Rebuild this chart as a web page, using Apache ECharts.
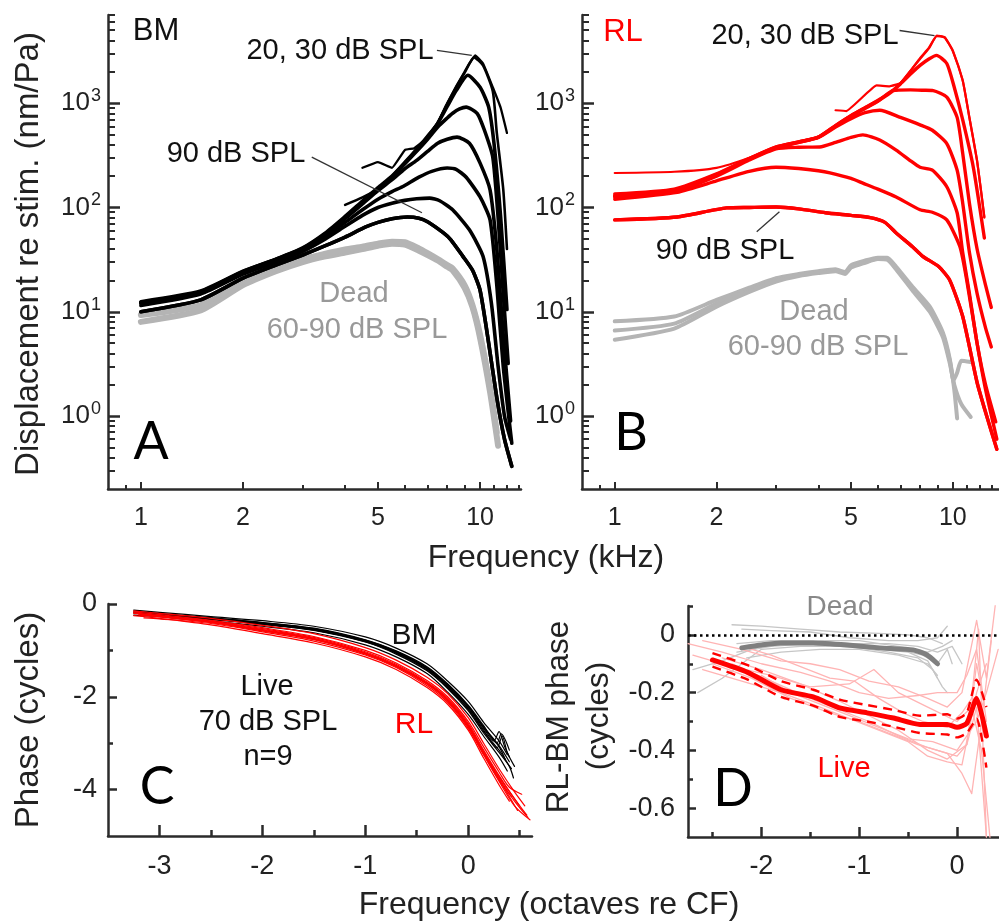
<!DOCTYPE html>
<html><head><meta charset="utf-8">
<script src="https://cdn.jsdelivr.net/npm/echarts@6/dist/echarts.min.js"></script>
<style>html,body{margin:0;padding:0;background:#fff}#c{width:999px;height:923px}</style>
</head><body><div id="c"></div>
<script>
// ---------- Panel A : BM displacement (frequency kHz, nm/Pa) ----------
const bm20 = [[4.5,240],[5.0,272],[5.5,240],[6.0,355],[6.4,370],[7.0,470],[7.5,650],[8.0,1000],[8.5,1450],[9.0,2000],[9.3,2400],[9.67,2870],[10.2,2400],[10.9,1420],[11.5,900],[12.0,518]];
const bm30 = [[4.0,106],[4.5,125],[5.0,150],[5.5,200],[6.0,270],[6.5,360],[7.0,480],[7.5,650],[8.0,990],[8.5,1420],[9.0,1950],[9.6,2750],[10.2,2300],[10.9,1300],[11.2,518],[11.7,150],[12.0,40]];
const bm40 = [[1.0,12.5],[1.5,15.8],[2.0,24.5],[2.5,32],[3.0,41],[3.5,57],[4.0,82],[4.5,115],[5.0,155],[5.5,200],[6.0,270],[6.5,360],[7.0,480],[7.5,640],[8.0,930],[8.5,1320],[9.2,1850],[10.0,1420],[10.6,916],[11.0,400],[11.5,80],[12.0,10.5]];
const bm50 = [[1.0,12.3],[1.5,15.6],[2.0,24.3],[2.5,31.8],[3.0,40.5],[3.5,56],[4.0,80],[4.5,112],[5.0,150],[5.5,195],[6.0,262],[6.5,345],[7.0,450],[7.5,590],[8.0,720],[8.3,800],[8.7,880],[9.1,916],[9.8,800],[10.3,550],[10.9,303],[11.3,80],[11.7,15],[12.1,3.2]];
const bm60 = [[1.0,12.2],[1.5,15.4],[2.0,24],[2.5,31.5],[3.0,40],[3.5,55],[4.0,78],[4.5,108],[5.0,145],[5.5,185],[6.0,235],[6.5,283],[7.0,345],[7.5,413],[8.0,450],[8.55,472],[9.3,413],[10.0,266],[10.7,147],[11.2,40],[11.7,6],[12.3,0.9]];
const bm70 = [[1.0,12],[1.5,15.2],[2.0,23.5],[2.5,31],[3.0,39],[3.5,53],[4.0,72],[4.5,95],[5.0,120],[5.5,142],[5.9,158],[6.6,195],[7.2,222],[8.0,239],[8.5,232],[9.1,195],[10.0,126],[10.7,76],[11.2,18],[11.7,3],[12.4,0.55]];
const bm80 = [[1.0,11.5],[1.5,14.8],[2.0,23],[2.5,30],[3.0,38],[3.5,50],[4.0,66],[4.5,84],[5.0,100],[5.5,110],[6.0,117],[6.5,121],[7.1,123],[7.6,116],[8.3,95],[9.3,61],[10.2,34],[10.8,12],[11.3,3],[11.8,1],[12.3,0.6]];
const bm90 = [[1.0,10],[1.5,13],[2.0,21],[2.5,28],[3.0,35],[3.5,43],[4.0,52],[4.6,65],[5.0,72],[5.5,78],[6.1,81],[6.6,79],[7.0,73],[7.8,57],[8.2,49],[8.9,34],[9.5,25],[10.0,16],[10.6,5],[11.2,1.5],[11.8,0.6],[12.4,0.33]];
const bmDead1 = [[1.0,8.0],[1.5,10.3],[2.0,18],[2.5,24.5],[3.0,30],[3.5,34],[4.0,37],[4.5,40],[5.0,43],[5.5,45],[6.0,44],[6.6,38.5],[7.0,35],[7.5,31],[8.0,27],[8.3,25],[9.0,17],[9.5,11],[10.0,5.6],[10.7,1.7],[11.3,0.52]];
const bmDead2 = [[1.0,9.3],[1.5,11.6],[2.0,19.5],[2.5,26],[3.0,32],[3.5,36],[4.0,39.5],[4.5,42],[5.0,45],[5.5,47],[6.0,46.5],[6.6,40.5],[7.0,36.5],[7.5,32],[8.0,28],[8.3,26],[9.0,18],[9.5,11.5],[10.0,6],[10.7,1.9],[11.2,0.7]];

// ---------- Panel B : RL displacement ----------
const rl20 = [[4.5,855],[4.84,840],[5.95,1480],[6.5,1450],[7.0,1560],[7.5,2050],[8.0,2700],[8.5,3400],[8.97,4450],[9.46,4300],[10.0,3200],[10.7,1660],[11.2,730],[11.8,282],[12.4,81]];
const rl30 = [[1.0,214],[1.5,220],[2.0,240],[2.5,300],[3.0,385],[3.5,430],[4.0,480],[4.5,620],[5.0,770],[5.5,920],[6.0,1080],[6.5,1270],[7.0,1560],[7.5,2050],[8.0,2650],[8.5,3350],[8.97,4400],[9.46,4250],[10.0,3150],[10.7,1640],[11.2,720],[11.8,278],[12.4,80]];
const rl40 = [[1.0,135],[1.5,150],[2.0,210],[2.5,295],[3.0,378],[3.5,425],[4.0,472],[4.5,610],[5.0,760],[5.5,900],[6.0,1050],[6.5,1240],[7.0,1530],[7.5,1900],[8.0,2300],[8.5,2650],[8.95,2870],[9.6,2400],[10.1,1420],[10.7,690],[11.5,243],[12.4,51]];
const rl50 = [[1.0,130],[1.5,147],[2.0,207],[2.5,292],[3.0,375],[3.5,422],[4.0,470],[4.5,600],[5.0,750],[5.5,890],[6.0,1040],[6.64,1320],[7.5,1340],[8.2,1330],[8.75,1320],[9.6,1140],[10.3,730],[10.7,330],[11.2,110],[11.8,40],[12.5,18],[13.0,11]];
const rl60 = [[1.0,128],[1.5,145],[2.0,205],[2.5,290],[3.0,372],[3.5,420],[4.0,468],[4.5,590],[5.0,710],[5.5,810],[6.08,855],[7.0,730],[8.0,620],[8.7,550],[9.6,410],[10.3,228],[10.7,110],[11.2,37],[11.8,15],[12.5,7],[13.0,4.6]];
const rl70 = [[1.0,126],[1.5,142],[2.0,200],[2.5,285],[3.0,365],[3.5,378],[4.04,380],[4.5,420],[5.0,470],[5.42,497],[6.08,444],[6.8,355],[7.5,280],[8.0,243],[8.7,228],[9.6,158],[10.3,89],[10.7,37],[11.2,15],[11.8,5],[12.5,2],[13.4,0.88]];
const rl80 = [[1.0,120],[1.53,140],[2.0,180],[2.5,222],[3.0,243],[3.5,236],[4.0,225],[4.33,215],[5.0,190],[5.42,171],[6.0,150],[6.8,126],[8.0,95],[8.7,90],[9.6,76],[10.5,42],[11.0,20],[11.8,5],[12.5,1.8],[13.5,0.6]];
const rl90 = [[1.0,76],[1.53,81],[2.14,99],[2.5,100],[3.0,101],[3.5,97],[4.2,89],[5.0,84],[5.7,80],[6.3,72],[6.8,57],[7.6,42],[8.15,34],[9.1,27],[9.8,20],[10.7,9],[11.8,2.1],[12.6,1.0],[13.5,0.48]];
const rlDead1 = [[1.0,8.1],[1.5,9.0],[2.0,13],[2.5,17],[3.0,21],[3.5,23],[4.0,24.5],[4.5,25.5],[4.8,24],[5.0,28],[5.5,31],[6.0,33],[6.4,33],[6.8,27],[7.6,17.4],[8.55,11.2],[9.35,6.3],[9.8,3.5],[10.1,1.8],[10.3,0.95]];
const rlDead2 = [[1.0,6.6],[1.5,7.7],[2.0,12],[2.5,16],[3.0,20],[3.5,22.5],[4.0,24],[4.5,25],[4.8,23.5],[5.0,27],[5.5,30],[6.0,32.5],[6.4,32],[6.8,26],[7.6,16.5],[8.55,10.5],[9.35,6.0],[9.8,3.4],[10.05,2.2],[10.3,2.6],[10.6,3.4],[11.3,3.3]];
const rlDead3 = [[1.0,5.4],[1.5,6.9],[2.0,11.2],[2.5,15.5],[3.0,19.5],[3.5,22],[4.0,23.5],[4.5,24.5],[4.8,23],[5.0,26.5],[5.5,29.5],[6.0,32],[6.4,31.5],[6.8,25.5],[7.6,16],[8.55,10],[9.35,5.7],[9.8,3.2],[10.1,2.0],[10.6,1.3],[11.3,0.98]];

// ---------- Panel C : phase (octaves re CF, cycles), 9 animals ----------
const phBM = [
 [[-3.25,-0.13],[-3,-0.18],[-2.5,-0.27],[-2,-0.36],[-1.5,-0.48],[-1,-0.71],[-0.7,-0.95],[-0.4,-1.29],[-0.2,-1.66],[0,-2.1],[0.15,-2.55],[0.3,-2.95],[0.38,-3.25]],
 [[-3.2,-0.17],[-3,-0.21],[-2.5,-0.3],[-2,-0.4],[-1.5,-0.53],[-1,-0.78],[-0.7,-1.02],[-0.4,-1.37],[-0.2,-1.74],[0,-2.2],[0.15,-2.65],[0.3,-3.05],[0.4,-3.4]],
 [[-3.25,-0.19],[-3,-0.23],[-2.5,-0.32],[-2,-0.42],[-1.5,-0.55],[-1,-0.8],[-0.7,-1.05],[-0.4,-1.4],[-0.2,-1.78],[0,-2.25],[0.15,-2.72],[0.28,-3.1],[0.33,-2.85],[0.38,-3.2],[0.45,-3.5]],
 [[-3.1,-0.2],[-3,-0.24],[-2.5,-0.33],[-2,-0.44],[-1.5,-0.57],[-1,-0.82],[-0.7,-1.08],[-0.4,-1.44],[-0.2,-1.82],[0,-2.3],[0.15,-2.78],[0.3,-3.2],[0.42,-3.55]],
 [[-3.25,-0.24],[-3,-0.27],[-2.5,-0.37],[-2,-0.48],[-1.5,-0.62],[-1,-0.88],[-0.7,-1.14],[-0.4,-1.5],[-0.2,-1.9],[0,-2.38],[0.15,-2.85],[0.3,-3.3],[0.38,-3.6]],
 [[-3.2,-0.2],[-3,-0.22],[-2.5,-0.31],[-2,-0.41],[-1.5,-0.54],[-1,-0.79],[-0.7,-1.04],[-0.4,-1.39],[-0.2,-1.76],[0,-2.22],[0.15,-2.68],[0.25,-2.95],[0.3,-2.75],[0.35,-3.05],[0.4,-3.3]],
 [[-3.15,-0.18],[-3,-0.21],[-2.5,-0.3],[-2,-0.4],[-1.5,-0.52],[-1,-0.77],[-0.7,-1.01],[-0.4,-1.35],[-0.2,-1.72],[0,-2.18],[0.15,-2.62],[0.28,-3.0],[0.32,-2.8],[0.4,-3.15]],
 [[-3.25,-0.17],[-3,-0.22],[-2.5,-0.31],[-2,-0.43],[-1.5,-0.56],[-1,-0.81],[-0.7,-1.06],[-0.4,-1.42],[-0.2,-1.8],[0,-2.27],[0.15,-2.75],[0.3,-3.15],[0.4,-3.5],[0.44,-3.75]],
 [[-3.1,-0.19],[-3,-0.23],[-2.5,-0.33],[-2,-0.43],[-1.5,-0.56],[-1,-0.8],[-0.7,-1.04],[-0.4,-1.38],[-0.2,-1.75],[0,-2.2],[0.15,-2.66],[0.3,-3.08],[0.36,-3.35]]
];
const phRL = [
 [[-3.25,-0.15],[-3,-0.2],[-2.5,-0.31],[-2,-0.46],[-1.5,-0.64],[-1,-0.94],[-0.7,-1.21],[-0.4,-1.58],[-0.2,-1.93],[0,-2.45],[0.15,-3.0],[0.3,-3.55],[0.45,-4.05],[0.55,-4.35]],
 [[-3.25,-0.19],[-3,-0.25],[-2.5,-0.37],[-2,-0.53],[-1.5,-0.72],[-1,-1.03],[-0.7,-1.3],[-0.4,-1.68],[-0.2,-2.03],[0,-2.57],[0.15,-3.15],[0.3,-3.7],[0.45,-4.2],[0.57,-4.55]],
 [[-3.2,-0.22],[-3,-0.27],[-2.5,-0.39],[-2,-0.56],[-1.5,-0.75],[-1,-1.06],[-0.7,-1.33],[-0.4,-1.71],[-0.2,-2.07],[0,-2.62],[0.15,-3.2],[0.3,-3.75],[0.45,-4.25],[0.58,-4.6]],
 [[-3.15,-0.3],[-3,-0.32],[-2.5,-0.42],[-2,-0.6],[-1.5,-0.8],[-1,-1.1],[-0.7,-1.37],[-0.4,-1.76],[-0.2,-2.12],[0,-2.68],[0.15,-3.25],[0.3,-3.8],[0.42,-4.15]],
 [[-3.25,-0.2],[-3,-0.26],[-2.5,-0.38],[-2,-0.55],[-1.5,-0.74],[-1,-1.05],[-0.7,-1.32],[-0.4,-1.7],[-0.2,-2.05],[0,-2.6],[0.15,-3.18],[0.3,-3.72],[0.5,-4.35]],
 [[-3.2,-0.24],[-3,-0.28],[-2.5,-0.4],[-2,-0.58],[-1.5,-0.77],[-1,-1.08],[-0.7,-1.35],[-0.4,-1.73],[-0.2,-2.09],[0,-2.65],[0.15,-3.22],[0.3,-3.78],[0.48,-4.45]],
 [[-3.25,-0.17],[-3,-0.23],[-2.5,-0.35],[-2,-0.51],[-1.5,-0.7],[-1,-1.0],[-0.7,-1.27],[-0.4,-1.65],[-0.2,-2.0],[0,-2.53],[0.15,-3.08],[0.3,-3.62],[0.4,-3.95],[0.52,-4.1]],
 [[-3.1,-0.25],[-3,-0.27],[-2.5,-0.39],[-2,-0.57],[-1.5,-0.76],[-1,-1.07],[-0.7,-1.34],[-0.4,-1.72],[-0.2,-2.08],[0,-2.64],[0.15,-3.24],[0.3,-3.82],[0.45,-4.35],[0.6,-4.65]],
 [[-3.25,-0.25],[-3,-0.31],[-2.5,-0.45],[-2,-0.64],[-1.5,-0.84],[-1,-1.14],[-0.7,-1.41],[-0.4,-1.8],[-0.2,-2.16],[0,-2.72],[0.15,-3.32],[0.3,-3.9],[0.4,-4.25]]
];

// ---------- Panel D : RL-BM phase (cycles) ----------
const liveMean = [[-2.5,-0.087],[-2.14,-0.13],[-1.8,-0.19],[-1.47,-0.215],[-1.19,-0.254],[-0.92,-0.27],[-0.65,-0.288],[-0.38,-0.31],[-0.1,-0.31],[0,-0.32],[0.1,-0.306],[0.2,-0.22],[0.3,-0.35]];
const liveUpper = [[-2.5,-0.063],[-2.14,-0.105],[-1.8,-0.16],[-1.47,-0.19],[-1.19,-0.225],[-0.92,-0.243],[-0.65,-0.26],[-0.38,-0.28],[-0.1,-0.275],[0,-0.29],[0.1,-0.27],[0.2,-0.155],[0.3,-0.25]];
const liveLower = [[-2.5,-0.11],[-2.14,-0.155],[-1.8,-0.215],[-1.47,-0.245],[-1.19,-0.285],[-0.92,-0.3],[-0.65,-0.318],[-0.38,-0.34],[-0.1,-0.345],[0,-0.355],[0.1,-0.34],[0.2,-0.29],[0.3,-0.46]];
const liveEach = [
 [[-2.75,-0.03],[-2.4,-0.06],[-2,-0.1],[-1.6,-0.13],[-1.3,-0.16],[-1,-0.2],[-0.7,-0.22],[-0.4,-0.21],[-0.2,-0.2],[0,-0.2],[0.1,-0.14],[0.2,-0.05],[0.3,-0.3]],
 [[-2.6,-0.02],[-2.2,-0.05],[-1.8,-0.09],[-1.5,-0.1],[-1.2,-0.12],[-0.9,-0.16],[-0.6,-0.18],[-0.3,-0.22],[-0.1,-0.25],[0.05,-0.2],[0.2,0.05],[0.3,-0.15],[0.4,0.13]],
 [[-2.7,-0.07],[-2.3,-0.11],[-1.9,-0.14],[-1.5,-0.18],[-1.1,-0.17],[-0.85,-0.12],[-0.6,-0.2],[-0.3,-0.25],[0,-0.3],[0.15,-0.25],[0.25,-0.4],[0.35,-0.75]],
 [[-2.5,-0.1],[-2.1,-0.15],[-1.7,-0.22],[-1.3,-0.27],[-1,-0.3],[-0.7,-0.34],[-0.4,-0.38],[-0.2,-0.4],[0,-0.42],[0.1,-0.38],[0.2,-0.25],[0.3,-0.7]],
 [[-2.6,-0.12],[-2.2,-0.16],[-1.8,-0.2],[-1.4,-0.25],[-1.1,-0.29],[-0.8,-0.33],[-0.5,-0.37],[-0.3,-0.42],[-0.1,-0.44],[0.05,-0.45],[0.2,-0.2],[0.3,-0.1]],
 [[-2.4,-0.08],[-2,-0.12],[-1.6,-0.17],[-1.2,-0.23],[-0.9,-0.28],[-0.6,-0.33],[-0.3,-0.4],[-0.1,-0.43],[0.1,-0.38],[0.2,-0.1],[0.28,-0.25]],
 [[-2.3,-0.1],[-1.9,-0.16],[-1.5,-0.22],[-1.2,-0.26],[-0.9,-0.3],[-0.6,-0.35],[-0.3,-0.39],[-0.1,-0.41],[0.05,-0.48],[0.15,-0.55],[0.25,-0.3],[0.35,-0.02]],
 [[-2.2,-0.04],[-1.9,-0.07],[-1.6,-0.11],[-1.3,-0.15],[-1.05,-0.16],[-0.8,-0.22],[-0.55,-0.27],[-0.35,-0.3],[-0.1,-0.32],[0.05,-0.27],[0.15,-0.22],[0.22,0.02],[0.3,-0.7]],
 [[-2.0,-0.14],[-1.7,-0.2],[-1.4,-0.24],[-1.1,-0.28],[-0.8,-0.32],[-0.5,-0.36],[-0.25,-0.37],[0,-0.4],[0.1,-0.35],[0.2,-0.3],[0.3,-0.2],[0.42,-0.05]]
];
const deadMean = [[-2.2,-0.045],[-2,-0.035],[-1.8,-0.028],[-1.47,-0.028],[-1.12,-0.035],[-0.79,-0.045],[-0.45,-0.052],[-0.31,-0.069],[-0.2,-0.1]];
const deadEach = [
 [[-2.65,-0.2],[-2.4,-0.15],[-2.2,-0.1],[-2,-0.05],[-1.6,-0.04],[-1.2,-0.04],[-0.8,-0.05],[-0.5,-0.06],[-0.3,-0.09],[-0.2,-0.15]],
 [[-2.3,0.035],[-2,0.03],[-1.6,0.02],[-1.2,0.01],[-0.8,0.005],[-0.5,0],[-0.3,-0.01],[-0.15,-0.03]],
 [[-2.2,0.02],[-1.9,0.015],[-1.5,0.01],[-1.1,-0.01],[-0.7,-0.02],[-0.4,-0.02],[-0.2,-0.01],[-0.1,0.03]],
 [[-2.7,-0.12],[-2.4,-0.09],[-2.1,-0.05],[-1.8,-0.03],[-1.4,-0.03],[-1,-0.04],[-0.6,-0.05],[-0.35,-0.07],[-0.2,-0.1],[-0.1,-0.05],[-0.05,-0.1]],
 [[-2.25,-0.06],[-1.9,-0.04],[-1.5,-0.03],[-1.1,-0.04],[-0.7,-0.06],[-0.4,-0.08],[-0.25,-0.12],[-0.15,-0.18],[-0.1,-0.2]],
 [[-2.25,-0.03],[-1.9,-0.02],[-1.5,-0.02],[-1.1,-0.03],[-0.7,-0.03],[-0.4,-0.04],[-0.2,-0.06],[-0.05,-0.04],[0.05,-0.1]],
 [[-2.2,-0.05],[-1.8,-0.03],[-1.4,-0.02],[-1,-0.02],[-0.6,-0.04],[-0.3,-0.06],[-0.15,-0.04],[-0.05,-0.02]],
 [[-2.15,-0.08],[-1.8,-0.06],[-1.4,-0.05],[-1,-0.05],[-0.6,-0.07],[-0.3,-0.1],[-0.2,-0.14]]
];

// ---------- ticks ----------
const kHzLabels = [1,2,5,10];
const kHzMinor = [0.9,3,4,6,7,8,9,11,12,13];
const dispLabels = [1,10,100,1000];
const dispMinor = [0.3,0.4,0.5,0.6,0.7,0.8,0.9,2,3,4,5,6,7,8,9,20,30,40,50,60,70,80,90,200,300,400,500,600,700,800,900,2000,3000,4000,5000,6000,7000];
const octLabelsC = [-3,-2,-1,0];
const octMinorC = [-2.5,-1.5,-0.5,0.5];
const phaseLabelsC = [0,-2,-4];
const phaseMinorC = [-1,-3];
const octLabelsD = [-2,-1,0];
const octMinorD = [-2.5,-1.5,-0.5];
const diffLabelsD = [0,-0.2,-0.4,-0.6];
const diffMinorD = [0.1,-0.1,-0.3,-0.5];

// leader lines for annotations (data coordinates)
const leadA2030 = [[7.46,3200],[9.45,2870]];
const leadA90 = [[3.19,304],[6.74,89]];
const leadB2030 = [[6.96,4970],[8.83,4450]];
const leadB90 = [[2.63,58.5],[3.07,90.8]];

const FONT = '"Liberation Sans", Arial, Helvetica, sans-serif';
const AX = '#2b2b2b';
const chart = echarts.init(document.getElementById('c'), null, {renderer:'canvas'});

function axisBase(extra){
  return Object.assign({
    axisLine:{show:true,onZero:false,lineStyle:{color:AX,width:2.5}},
    splitLine:{show:false},
    silent:true
  }, extra);
}
function minorAxis(extra){
  return Object.assign({
    axisLine:{show:false,onZero:false},
    axisLabel:{show:false},
    splitLine:{show:false},
    silent:true
  }, extra);
}
const supFmt = v => '{b|10}{s|' + Math.round(Math.log10(v)) + '}';
const supRich = {b:{fontSize:26,fontFamily:FONT,color:'#222'}, s:{fontSize:18,fontFamily:FONT,color:'#222',padding:[0,0,14,1]}};

const xAxes = [
  axisBase({type:'log',logBase:10,gridIndex:0,position:'bottom',min:0.8,max:13.2,
    axisTick:{show:true,inside:true,length:7,customValues:kHzLabels,lineStyle:{color:AX,width:2}},
    axisLabel:{customValues:kHzLabels,fontSize:25,fontFamily:FONT,color:'#222',margin:17,formatter:v=>String(v)}}),
  minorAxis({type:'log',logBase:10,gridIndex:0,position:'bottom',min:0.8,max:13.2,
    axisTick:{show:true,inside:true,length:4,customValues:kHzMinor,lineStyle:{color:AX,width:2}}}),
  axisBase({type:'log',logBase:10,gridIndex:1,position:'bottom',min:0.8,max:13.7,
    axisTick:{show:true,inside:true,length:7,customValues:kHzLabels,lineStyle:{color:AX,width:2}},
    axisLabel:{customValues:kHzLabels,fontSize:25,fontFamily:FONT,color:'#222',margin:17,formatter:v=>String(v)}}),
  minorAxis({type:'log',logBase:10,gridIndex:1,position:'bottom',min:0.8,max:13.7,
    axisTick:{show:true,inside:true,length:4,customValues:kHzMinor,lineStyle:{color:AX,width:2}}}),
  axisBase({type:'value',gridIndex:2,position:'bottom',min:-3.5,max:0.62,
    axisTick:{show:true,inside:true,length:11,customValues:octLabelsC,lineStyle:{color:AX,width:2.5}},
    axisLabel:{customValues:octLabelsC,fontSize:27,fontFamily:FONT,color:'#222',margin:17,formatter:v=>String(v)}}),
  minorAxis({type:'value',gridIndex:2,position:'bottom',min:-3.5,max:0.62,
    axisTick:{show:true,inside:true,length:6,customValues:octMinorC,lineStyle:{color:AX,width:2.5}}}),
  axisBase({type:'value',gridIndex:3,position:'bottom',min:-2.75,max:0.4286,
    axisTick:{show:true,inside:true,length:10,customValues:octLabelsD,lineStyle:{color:AX,width:2.5}},
    axisLabel:{customValues:octLabelsD,fontSize:27,fontFamily:FONT,color:'#222',margin:16,formatter:v=>String(v)}}),
  minorAxis({type:'value',gridIndex:3,position:'bottom',min:-2.75,max:0.4286,
    axisTick:{show:true,inside:true,length:5,customValues:octMinorD,lineStyle:{color:AX,width:2.5}}})
];
const yAxes = [
  axisBase({type:'log',logBase:10,gridIndex:0,position:'left',min:0.2,max:7000,
    axisTick:{show:true,inside:true,length:12,customValues:dispLabels,lineStyle:{color:AX,width:2.5}},
    axisLabel:{customValues:dispLabels,margin:7,formatter:supFmt,rich:supRich}}),
  minorAxis({type:'log',logBase:10,gridIndex:0,position:'left',min:0.2,max:7000,
    axisTick:{show:true,inside:true,length:7,customValues:dispMinor,lineStyle:{color:AX,width:2}}}),
  axisBase({type:'log',logBase:10,gridIndex:1,position:'left',min:0.2,max:7000,
    axisTick:{show:true,inside:true,length:12,customValues:dispLabels,lineStyle:{color:AX,width:2.5}},
    axisLabel:{customValues:dispLabels,margin:7,formatter:supFmt,rich:supRich}}),
  minorAxis({type:'log',logBase:10,gridIndex:1,position:'left',min:0.2,max:7000,
    axisTick:{show:true,inside:true,length:7,customValues:dispMinor,lineStyle:{color:AX,width:2}}}),
  axisBase({type:'value',gridIndex:2,position:'left',min:-5,max:0,
    axisTick:{show:true,inside:true,length:9,customValues:phaseLabelsC,lineStyle:{color:AX,width:2.5}},
    axisLabel:{customValues:phaseLabelsC,fontSize:27,fontFamily:FONT,color:'#222',margin:11,formatter:v=>String(v)}}),
  minorAxis({type:'value',gridIndex:2,position:'left',min:-5,max:0,
    axisTick:{show:true,inside:true,length:5,customValues:phaseMinorC,lineStyle:{color:AX,width:2.5}}}),
  axisBase({type:'value',gridIndex:3,position:'left',min:-0.7,max:0.1,
    axisTick:{show:true,inside:true,length:8,customValues:diffLabelsD,lineStyle:{color:AX,width:2.5}},
    axisLabel:{customValues:diffLabelsD,fontSize:27,fontFamily:FONT,color:'#222',margin:13,formatter:v=>(v===0?'0':v.toFixed(1))}}),
  minorAxis({type:'value',gridIndex:3,position:'left',min:-0.7,max:0.1,
    axisTick:{show:true,inside:true,length:5,customValues:diffMinorD,lineStyle:{color:AX,width:2.5}}})
];

const series = [];
function addLine(data, ax, color, width, opt){
  const s = Object.assign({type:'line',xAxisIndex:ax,yAxisIndex:ax,data:data,symbol:'none',showSymbol:false,
    smooth:0.2,silent:true,emphasis:{disabled:true},
    lineStyle:{color:color,width:width,cap:'round',join:'round'}}, opt||{});
  series.push(s);
  return s;
}
function leader(s, pts){
  s.markLine = {silent:true,symbol:'none',label:{show:false},animation:false,
    lineStyle:{color:'#333',width:1.3,type:'solid'},
    data:[[{coord:pts[0]},{coord:pts[1]}]]};
}
// Panel A
addLine(bmDead1,0,'#b4b4b4',6);
addLine(bmDead2,0,'#b4b4b4',6);
[bm90,bm80,bm70,bm60,bm50,bm40].forEach(d=>addLine(d,0,'#000',3.6));
addLine(bm30,0,'#000',2.6);
const sA = addLine(bm20,0,'#000',2.3,{smooth:0.1});
leader(sA, leadA2030);
const sA2 = addLine(bm90,0,'#000',3.6);
leader(sA2, leadA90);
// Panel B
[rlDead1,rlDead2,rlDead3].forEach(d=>addLine(d,2,'#b4b4b4',4));
[rl90,rl80,rl70,rl60,rl50,rl40].forEach(d=>addLine(d,2,'#ff0000',3.4));
addLine(rl30,2,'#ff0000',2.2);
const sB = addLine(rl20,2,'#ff0000',2.2,{smooth:0.1});
leader(sB, leadB2030);
const sB2 = addLine(rl90,2,'#ff0000',3.4);
leader(sB2, leadB90);
// Panel C
phBM.forEach(d=>addLine(d,4,'#000',1.2,{smooth:0.3}));
phRL.forEach(d=>addLine(d,4,'#ff0000',1.2,{smooth:0.3}));
// Panel D
deadEach.forEach(d=>addLine(d,6,'#c6c6c6',1.3,{smooth:false}));
liveEach.forEach(d=>addLine(d,6,'#ffb4b4',1.3,{smooth:false}));
addLine(liveUpper,6,'#ff0000',2.4,{smooth:0.2,lineStyle:{color:'#ff0000',width:2.4,type:[9,6]}});
addLine(liveLower,6,'#ff0000',2.4,{smooth:0.2,lineStyle:{color:'#ff0000',width:2.4,type:[9,6]}});
addLine(liveMean,6,'#ff0000',5,{smooth:0.2});
const sD = addLine(deadMean,6,'#7f7f7f',5,{smooth:0.2});
sD.markLine = {silent:true,symbol:'none',label:{show:false},animation:false,
  lineStyle:{color:'#000',width:2.6,type:[2.5,3.5]},data:[{yAxis:0}]};

function T(x,y,s,size,color,opt){
  const o = opt||{};
  return {type:'text',x:x,y:y,rotation:o.rot||0,silent:true,z:100,
    style:{text:s,font:(o.weight||'normal')+' '+size+'px '+(o.family||FONT),fill:color,
      align:'center',verticalAlign:'middle',textAlign:'center',textVerticalAlign:'middle'}};
}
const LET = 'Lato, "Open Sans", sans-serif';
const graphics = [
  T(156,31,'BM',31,'#111'),
  T(340,51,'20, 30 dB SPL',29,'#111'),
  T(236,154,'90 dB SPL',29,'#111'),
  T(354,294,'Dead',29,'#999'),
  T(357,330,'60-90 dB SPL',29,'#999'),
  T(151,442,'A',52,'#000',{family:LET}),
  T(623,32,'RL',31,'#ff0000'),
  T(805,36,'20, 30 dB SPL',29,'#111'),
  T(725,251,'90 dB SPL',29,'#111'),
  T(814,312,'Dead',29,'#999'),
  T(818,347,'60-90 dB SPL',29,'#999'),
  T(631,433,'B',52,'#000',{family:LET}),
  T(546,558,'Frequency (kHz)',32,'#222'),
  T(29,254,'Displacement re stim. (nm/Pa)',33,'#222',{rot:Math.PI/2}),
  T(414,636,'BM',30,'#111'),
  T(414,725,'RL',30,'#ff0000'),
  T(267,687,'Live',29,'#111'),
  T(268,722,'70 dB SPL',29,'#111'),
  T(268,757,'n=9',29,'#111'),
  T(157,787,'C',52,'#000',{family:LET}),
  T(29,720,'Phase (cycles)',33,'#222',{rot:Math.PI/2}),
  T(840,607,'Dead',28,'#888'),
  T(844,769,'Live',29,'#ff0000'),
  T(733,789,'D',52,'#000',{family:LET}),
  T(559,717,'RL-BM phase',31.5,'#222',{rot:Math.PI/2}),
  T(599,716,'(cycles)',31.5,'#222',{rot:Math.PI/2}),
  T(549,905,'Frequency (octaves re CF)',32,'#222')
];

chart.setOption({
  animation:false,
  backgroundColor:'#fff',
  grid:[
    {left:108,top:15,width:413,height:474},
    {left:582,top:15,width:417,height:474},
    {left:108,top:604,width:424,height:232},
    {left:688,top:606,width:311,height:231}
  ],
  xAxis:xAxes,
  yAxis:yAxes,
  series:series,
  graphic:graphics
});
</script></body></html>
